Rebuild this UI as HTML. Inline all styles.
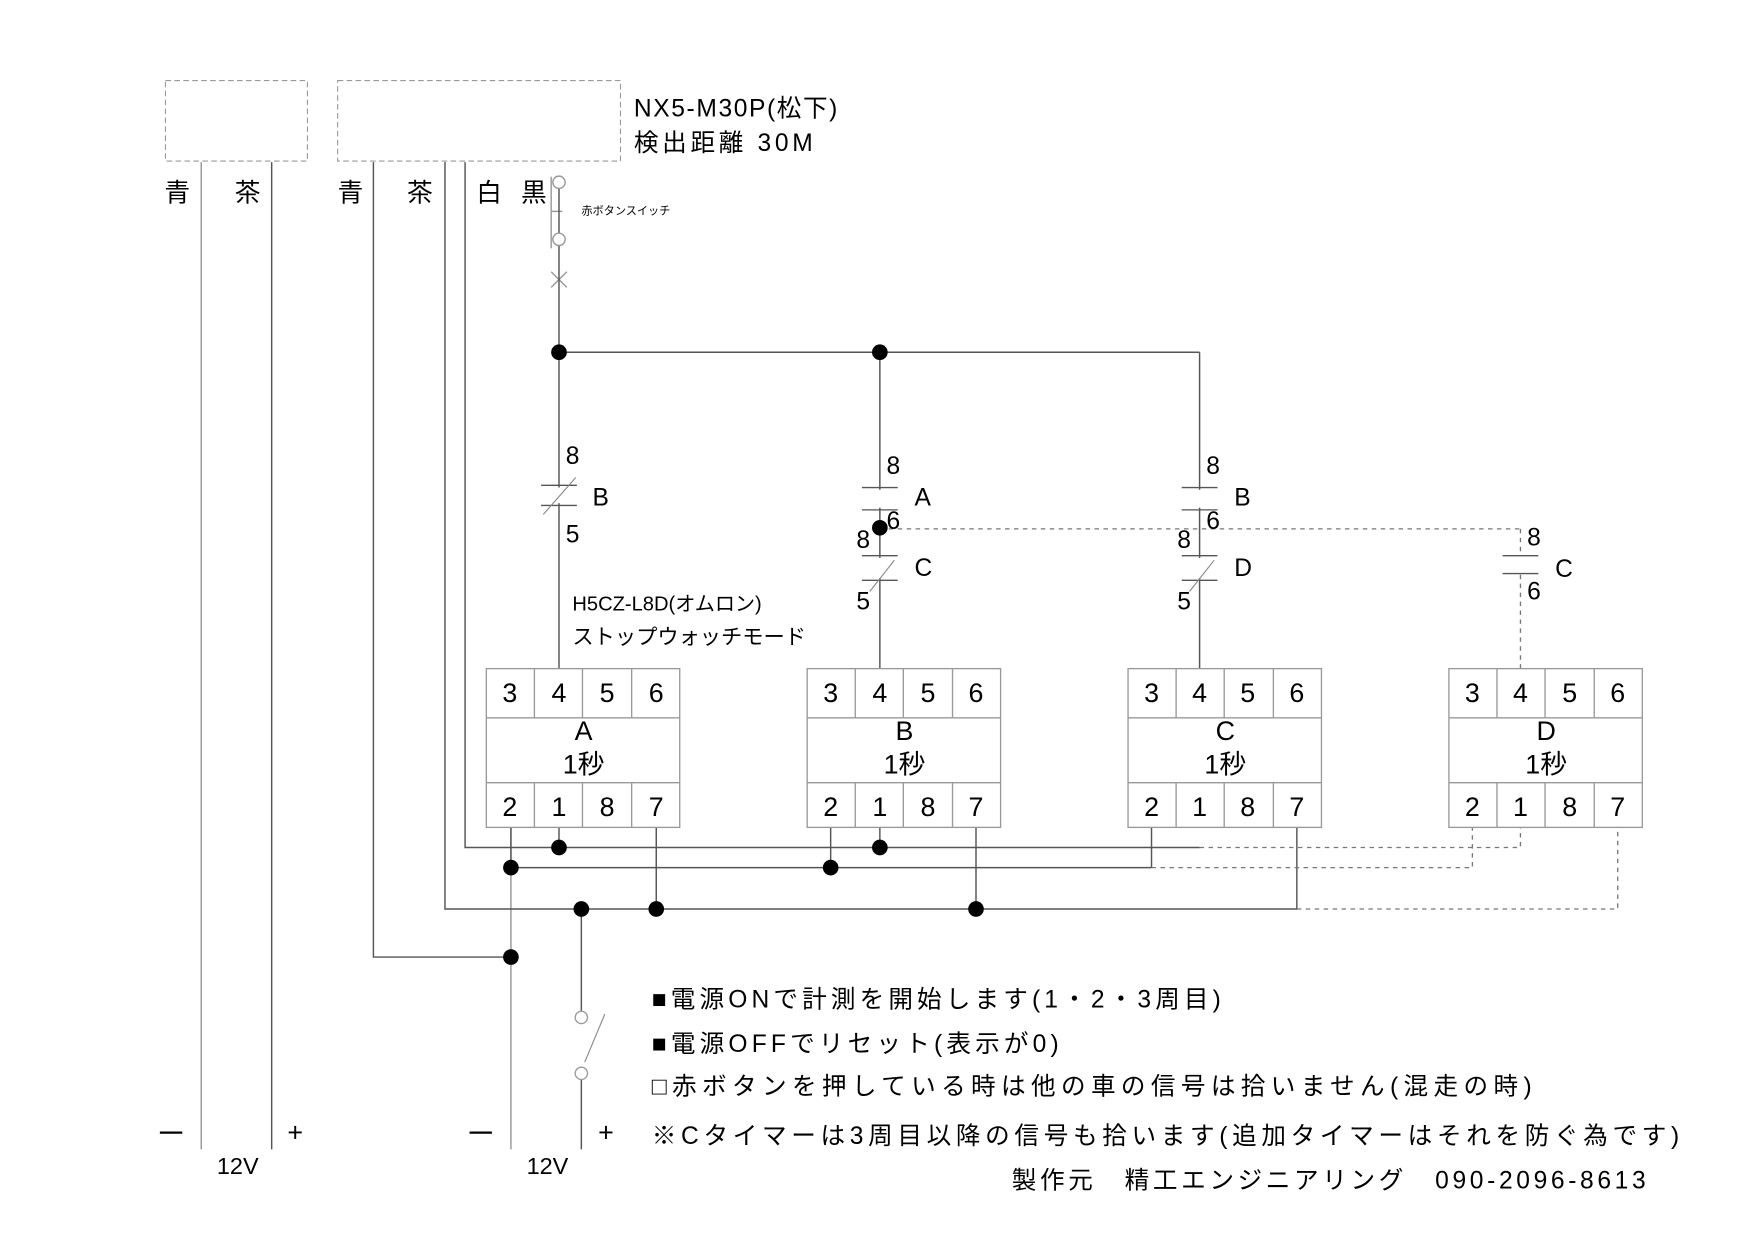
<!DOCTYPE html>
<html><head><meta charset="utf-8"><style>
html,body{margin:0;padding:0;background:#fff;}
svg{display:block}
text{font-family:"Liberation Sans","Noto Sans CJK JP",sans-serif;fill:#000}
</style></head><body>
<svg width="1753" height="1240" viewBox="0 0 1568 1109" xmlns="http://www.w3.org/2000/svg">
<g fill="none" stroke="#999" stroke-dasharray="5,3" stroke-width="1">
<rect x="148" y="72" width="127" height="72"/>
<rect x="302" y="72" width="253" height="72"/>
</g>
<text x="567" y="104" font-size="22" textLength="182">NX5-M30P(松下)</text>
<text x="567" y="135" font-size="22" textLength="160">検出距離 30M</text>
<g font-size="23">
<text x="147" y="180">青</text><text x="210" y="180">茶</text>
<text x="302" y="180">青</text><text x="364" y="180">茶</text>
<text x="426" y="180">白</text><text x="466" y="180">黒</text>
</g>
<g stroke="#999" stroke-width="1.3" fill="none">
<line x1="180" y1="145" x2="180" y2="1028"/>
<line x1="457" y1="740" x2="457" y2="1028"/>
<line x1="493" y1="158" x2="493" y2="222"/>
<line x1="493" y1="189" x2="503" y2="189"/>
<circle cx="500" cy="163" r="5.5" fill="#fff"/>
<circle cx="500" cy="214" r="5.5" fill="#fff"/>
<line x1="493" y1="243" x2="507" y2="257"/><line x1="507" y1="243" x2="493" y2="257"/>
</g>
<text x="520" y="192" font-size="10">赤ボタンスイッチ</text>
<g stroke="#555" stroke-width="1.3" fill="none">
<line x1="243" y1="145" x2="243" y2="1028"/>
<polyline points="334,145 334,856 457,856"/>
<polyline points="398,145 398,813 1160,813 1160,740"/>
<polyline points="416,145 416,758 1073,758"/>
<line x1="500" y1="169" x2="500" y2="208"/>
<line x1="500" y1="220" x2="500" y2="598"/>
<line x1="500" y1="315" x2="1073" y2="315"/>
<line x1="1073" y1="315" x2="1073" y2="598"/>
<line x1="787" y1="315" x2="787" y2="598"/>
<line x1="457" y1="776" x2="1030" y2="776"/>
<line x1="1030" y1="740" x2="1030" y2="776"/>
<line x1="500" y1="740" x2="500" y2="758"/>
<line x1="457" y1="740" x2="457" y2="776"/>
<line x1="587" y1="740" x2="587" y2="813"/>
<line x1="743" y1="740" x2="743" y2="776"/>
<line x1="787" y1="740" x2="787" y2="758"/>
<line x1="873" y1="740" x2="873" y2="813"/>
<line x1="520" y1="813" x2="520" y2="904"/>
<line x1="520" y1="966" x2="520" y2="1028"/>
</g>
<g stroke="#fff" stroke-width="4">
<line x1="500" y1="436" x2="500" y2="450"/>
<line x1="787" y1="438" x2="787" y2="454"/>
<line x1="787" y1="499" x2="787" y2="517"/>
<line x1="1073" y1="438" x2="1073" y2="454"/>
<line x1="1073" y1="499" x2="1073" y2="517"/>
</g>
<g stroke="#555" stroke-width="1.2">
<line x1="484" y1="434" x2="516" y2="434"/><line x1="484" y1="452" x2="516" y2="452"/>
<line x1="771" y1="436" x2="803" y2="436"/><line x1="771" y1="456" x2="803" y2="456"/>
<line x1="771" y1="497" x2="803" y2="497"/><line x1="771" y1="519" x2="803" y2="519"/>
<line x1="1057" y1="436" x2="1089" y2="436"/><line x1="1057" y1="456" x2="1089" y2="456"/>
<line x1="1057" y1="497" x2="1089" y2="497"/><line x1="1057" y1="519" x2="1089" y2="519"/>
<line x1="1344" y1="497" x2="1376" y2="497"/><line x1="1344" y1="513" x2="1376" y2="513"/>
</g>
<g stroke="#888" stroke-width="1">
<line x1="486" y1="460" x2="515" y2="427"/>
<line x1="778" y1="529" x2="800" y2="501"/>
<line x1="1064" y1="529" x2="1086" y2="501"/>
<line x1="523" y1="950" x2="541" y2="907"/>
</g>
<g stroke="#999" stroke-width="1.2" fill="#fff">
<circle cx="520" cy="910" r="5.5"/><circle cx="520" cy="960" r="5.5"/>
</g>
<g stroke="#777" stroke-width="1.2" stroke-dasharray="4,4" fill="none">
<line x1="787" y1="473" x2="1360" y2="473"/>
<line x1="1360" y1="473" x2="1360" y2="496"/>
<line x1="1360" y1="514" x2="1360" y2="598"/>
<polyline points="1073,758 1360,758 1360,740"/>
<polyline points="1030,776 1317,776 1317,740"/>
<polyline points="1160,813 1447,813 1447,740"/>
</g>
<g font-size="22">
<text x="506" y="415">8</text><text x="530" y="452">B</text><text x="506" y="485">5</text>
<text x="793" y="424">8</text><text x="818" y="452">A</text><text x="793" y="473">6</text>
<text x="766" y="490">8</text><text x="818" y="515">C</text><text x="766" y="545">5</text>
<text x="1079" y="424">8</text><text x="1104" y="452">B</text><text x="1079" y="473">6</text>
<text x="1053" y="490">8</text><text x="1104" y="515">D</text><text x="1053" y="545">5</text>
<text x="1366" y="488">8</text><text x="1391" y="516">C</text><text x="1366" y="536">6</text>
</g>
<text x="512" y="546" font-size="18">H5CZ-L8D(オムロン)</text>
<text x="512" y="576" font-size="19">ストップウォッチモード</text>
<g stroke="#999" stroke-width="1.2" fill="none">
<rect x="435" y="598" width="173" height="142"/><rect x="722" y="598" width="173" height="142"/>
<rect x="1009" y="598" width="173" height="142"/><rect x="1296" y="598" width="173" height="142"/>
</g>
<g stroke="#999" stroke-width="1.2">
<line x1="435" y1="642" x2="608" y2="642"/><line x1="435" y1="700" x2="608" y2="700"/>
<line x1="722" y1="642" x2="895" y2="642"/><line x1="722" y1="700" x2="895" y2="700"/>
<line x1="1009" y1="642" x2="1182" y2="642"/><line x1="1009" y1="700" x2="1182" y2="700"/>
<line x1="1296" y1="642" x2="1469" y2="642"/><line x1="1296" y1="700" x2="1469" y2="700"/>
<path d="M478 598V642M521 598V642M565 598V642M478 700V740M521 700V740M565 700V740"/>
<path d="M765 598V642M808 598V642M852 598V642M765 700V740M808 700V740M852 700V740"/>
<path d="M1052 598V642M1095 598V642M1139 598V642M1052 700V740M1095 700V740M1139 700V740"/>
<path d="M1339 598V642M1382 598V642M1426 598V642M1339 700V740M1382 700V740M1426 700V740"/>
</g>
<g font-size="24" text-anchor="middle">
<text x="456" y="628">3</text><text x="500" y="628">4</text><text x="543" y="628">5</text><text x="587" y="628">6</text>
<text x="456" y="730">2</text><text x="500" y="730">1</text><text x="543" y="730">8</text><text x="587" y="730">7</text>
<text x="522" y="662">A</text><text x="522" y="692">1秒</text>
<text x="743" y="628">3</text><text x="787" y="628">4</text><text x="830" y="628">5</text><text x="873" y="628">6</text>
<text x="743" y="730">2</text><text x="787" y="730">1</text><text x="830" y="730">8</text><text x="873" y="730">7</text>
<text x="809" y="662">B</text><text x="809" y="692">1秒</text>
<text x="1030" y="628">3</text><text x="1073" y="628">4</text><text x="1116" y="628">5</text><text x="1160" y="628">6</text>
<text x="1030" y="730">2</text><text x="1073" y="730">1</text><text x="1116" y="730">8</text><text x="1160" y="730">7</text>
<text x="1096" y="662">C</text><text x="1096" y="692">1秒</text>
<text x="1317" y="628">3</text><text x="1360" y="628">4</text><text x="1404" y="628">5</text><text x="1447" y="628">6</text>
<text x="1317" y="730">2</text><text x="1360" y="730">1</text><text x="1404" y="730">8</text><text x="1447" y="730">7</text>
<text x="1383" y="662">D</text><text x="1383" y="692">1秒</text>
</g>
<g fill="#000">
<circle cx="500" cy="315" r="7"/><circle cx="787" cy="315" r="7"/><circle cx="787" cy="472" r="7"/>
<circle cx="500" cy="758" r="7"/><circle cx="787" cy="758" r="7"/>
<circle cx="457" cy="776" r="7"/><circle cx="743" cy="776" r="7"/>
<circle cx="520" cy="813" r="7"/><circle cx="587" cy="813" r="7"/><circle cx="873" cy="813" r="7"/>
<circle cx="457" cy="856" r="7"/>
</g>
<g stroke="#000" stroke-width="2">
<line x1="143" y1="1013" x2="163" y2="1013"/>
<line x1="420" y1="1013" x2="440" y2="1013"/>
</g>
<g font-size="24">
<text x="257" y="1021">+</text><text x="194" y="1050" font-size="21">12V</text>
<text x="535" y="1021">+</text><text x="471" y="1050" font-size="21">12V</text>
</g>
<g font-size="22">
<text x="583" y="901" textLength="509">■電源ONで計測を開始します(1・2・3周目)</text>
<text x="583" y="941" textLength="364">■電源OFFでリセット(表示が0)</text>
<text x="583" y="979" textLength="787">□赤ボタンを押している時は他の車の信号は拾いません(混走の時)</text>
<text x="583" y="1023" textLength="919">※Cタイマーは3周目以降の信号も拾います(追加タイマーはそれを防ぐ為です)</text>
<text x="905" y="1063" textLength="567">製作元　精工エンジニアリング　090-2096-8613</text>
</g>
</svg>
</body></html>
